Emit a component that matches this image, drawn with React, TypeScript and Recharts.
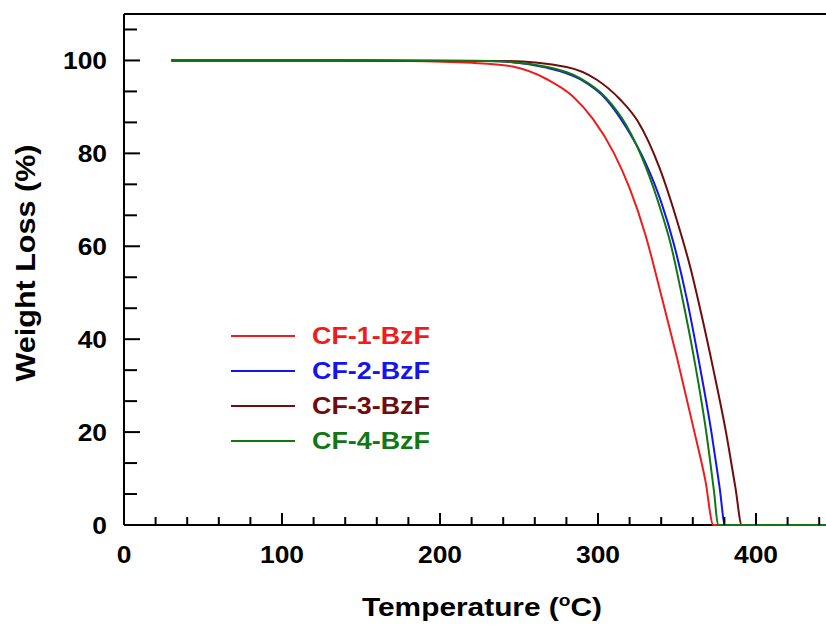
import { LineChart, Line, XAxis, YAxis, CartesianGrid, Legend } from 'recharts';

const FONT = '"Liberation Sans", Arial, Helvetica, sans-serif';

// temperature (°C) / weight (%)
const cf1Temp = [30, 120, 180, 220, 246, 268, 284, 297, 310, 320, 330, 340, 350, 360, 368, 373, 450];
const cf1Weight = [100, 100, 99.9, 99.5, 98.7, 95.9, 92.3, 87.3, 80.1, 72.5, 62.5, 49.5, 36, 21.5, 9.5, 0, 0];

const cf2Temp = [30, 150, 230, 268, 289, 305, 318, 330, 340, 348, 356, 364, 372, 377, 380.4, 450];
const cf2Weight = [100, 100, 99.9, 98.4, 95.9, 91.7, 85.5, 78, 69.5, 60.5, 49, 35, 19.5, 8, 0, 0];

const cf3Temp = [30, 150, 240, 280, 299, 314, 325, 339, 350, 358, 365, 373, 381, 387, 391, 450];
const cf3Weight = [100, 100, 99.9, 98.6, 95.9, 91.6, 87, 76.8, 65.5, 56, 46, 33.5, 20, 8, 0, 0];

const cf4Temp = [30, 150, 230, 268, 288.6, 305, 318, 330, 340, 346, 353, 361, 368.5, 373.5, 376, 450];
const cf4Weight = [100, 100, 99.9, 98.6, 96.2, 92, 86, 77.3, 67.5, 60.5, 49.5, 35.5, 20, 7, 0, 0];

const xTicks = [0, 20, 40, 60, 80, 100, 120, 140, 160, 180, 200, 220, 240, 260, 280, 300, 320, 340, 360, 380, 400, 420, 440];
const yTicks = [0, 6.667, 13.333, 20, 26.667, 33.333, 40, 46.667, 53.333, 60, 66.667, 73.333, 80, 86.667, 93.333, 100, 106.667];

const toRows = (t: number[], w: number[]) => t.map((v, i) => ({ t: v, w: w[i] }));

const series = [
  { name: 'CF-1-BzF', color: '#f01c1c', data: toRows(cf1Temp, cf1Weight) },
  { name: 'CF-2-BzF', color: '#1414f0', data: toRows(cf2Temp, cf2Weight) },
  { name: 'CF-3-BzF', color: '#700c0c', data: toRows(cf3Temp, cf3Weight) },
  { name: 'CF-4-BzF', color: '#117711', data: toRows(cf4Temp, cf4Weight) },
];

function XTick(props: any) {
  const { x, y, payload } = props;
  const major = payload.value % 100 === 0;
  return (
    <g>
      <line x1={x} x2={x} y1={y} y2={y - (major ? 12 : 8)} stroke="#000" strokeWidth={2} />
      {major && (
        <text
          transform={`translate(${x},${y + 38}) scale(1.1,1)`}
          textAnchor="middle"
          fontFamily={FONT}
          fontWeight="bold"
          fontSize={24}
          fill="#000"
        >
          {payload.value}
        </text>
      )}
    </g>
  );
}

function YTick(props: any) {
  const { x, y, payload } = props;
  const v = payload.value;
  const major = Math.abs(v / 20 - Math.round(v / 20)) < 0.001;
  return (
    <g>
      <line x1={x} x2={x + (major ? 16 : 13)} y1={y} y2={y} stroke="#000" strokeWidth={2} />
      {major && (
        <text
          transform={`translate(${x - 17},${y + 8.5}) scale(1.1,1)`}
          textAnchor="end"
          fontFamily={FONT}
          fontWeight="bold"
          fontSize={24}
          fill="#000"
        >
          {Math.round(v)}
        </text>
      )}
    </g>
  );
}

function XTitle() {
  return (
    <text x={482} y={616} textAnchor="middle" fontFamily={FONT} fontWeight="bold" fontSize={25} fill="#000"
      textLength={240} lengthAdjust="spacingAndGlyphs">
      Temperature (<tspan dy={-10} fontSize={16}>o</tspan><tspan dy={10}>C)</tspan>
    </text>
  );
}

function YTitle() {
  return (
    <text transform="translate(35,263) rotate(-90)" textAnchor="middle" fontFamily={FONT} fontWeight="bold"
      fontSize={27} fill="#000" textLength={237} lengthAdjust="spacingAndGlyphs">
      Weight Loss (%)
    </text>
  );
}

function LegendBox() {
  return (
    <svg width={240} height={140}>
      {series.map((s, i) => (
        <g key={s.name}>
          <line x1={11} x2={75} y1={16 + i * 35} y2={16 + i * 35} stroke={s.color} strokeWidth={2} />
          <text x={92} y={24 + i * 35} fill={s.color} fontFamily={FONT} fontWeight="bold" fontSize={23}
            textLength={118} lengthAdjust="spacingAndGlyphs">
            {s.name}
          </text>
        </g>
      ))}
    </svg>
  );
}

export default function App() {
  return (
    <div style={{ position: 'absolute', left: 0, top: 0, width: 826, height: 629, overflow: 'hidden', background: '#fff' }}>
      <LineChart width={900} height={629} margin={{ top: 14, right: 65, bottom: 0, left: 0 }}>
        {/* frame lines drawn as grid so the curves sit on top of the baseline */}
        <CartesianGrid
          vertical={false}
          horizontalValues={[0, 110]}
          stroke="#000"
          strokeWidth={2}
        />
        <XAxis
          dataKey="t"
          type="number"
          domain={[0, 450]}
          ticks={xTicks}
          interval={0}
          height={104}
          tickSize={0}
          tickMargin={0}
          tick={<XTick />}
          axisLine={false}
          label={<XTitle />}
        />
        <YAxis
          type="number"
          domain={[0, 110]}
          ticks={yTicks}
          interval={0}
          width={124}
          tickSize={0}
          tickMargin={0}
          tick={<YTick />}
          axisLine={{ stroke: '#000', strokeWidth: 2 }}
          label={<YTitle />}
        />
        {series.map((s) => (
          <Line
            key={s.name}
            data={s.data}
            dataKey="w"
            name={s.name}
            type="monotone"
            stroke={s.color}
            strokeWidth={2}
            dot={false}
            isAnimationActive={false}
          />
        ))}
        <Legend
          layout="vertical"
          align="center"
          verticalAlign="middle"
          content={() => <LegendBox />}
          wrapperStyle={{ position: 'absolute', left: 220, top: 320, width: 240, height: 140 }}
        />
      </LineChart>
    </div>
  );
}
